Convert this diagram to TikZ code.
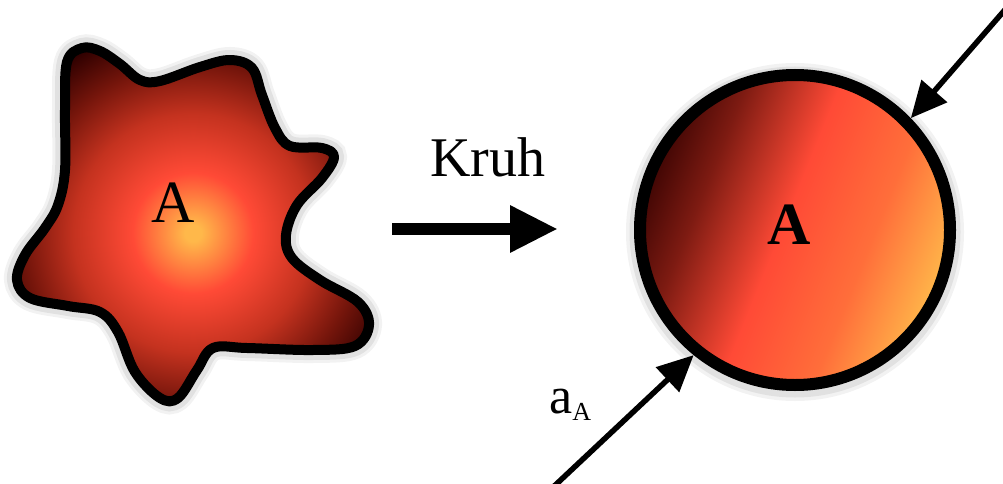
\documentclass[tikz,border=0pt]{standalone}
\usepackage{fontspec}
\setmainfont{Liberation Serif}
\usetikzlibrary{arrows.meta}

% palette of the glowing blob
\definecolor{glowcore}{HTML}{FFB84A}
\definecolor{glowred}{HTML}{FF4A36}
\definecolor{glowmid}{HTML}{C4321F}
\definecolor{glowdeep}{HTML}{74150B}
\definecolor{glowrim}{HTML}{2E0000}
% palette of the disc
\definecolor{discdark}{HTML}{3E0503}
\definecolor{discmaroon}{HTML}{7E1B12}
\definecolor{discred}{HTML}{FF4A36}
\definecolor{discorange}{HTML}{FF6E3A}
\definecolor{discgold}{HTML}{FFB84A}

% radial glow: 25bp corresponds to the radius of the shaded circle (260pt)
\pgfdeclareradialshading{blobglow}{\pgfpoint{0bp}{0bp}}{%
  color(0bp)=(glowcore); color(0.8bp)=(glowcore); color(5.8bp)=(glowred);
  color(11.5bp)=(glowmid); color(16.3bp)=(glowdeep); color(20.5bp)=(glowrim);
  color(50bp)=(glowrim)}
\pgfdeclarehorizontalshading{discgrad}{100bp}{%
  color(0bp)=(discdark); color(25bp)=(discdark); color(34bp)=(discmaroon);
  color(48bp)=(discred); color(62bp)=(discorange); color(75bp)=(discgold);
  color(100bp)=(discgold)}

% outline of the irregular region
\def\blob{plot[smooth cycle, tension=0.6] coordinates {
  (65,170) (65,110) (67,62) (82,48) (100,51) (120,64) (140,80) (160,81)
  (200,67) (230,60) (252,68) (262,95) (275,128) (290,146) (322,148)
  (334,157) (322,178) (297,205) (286,235) (292,258) (320,280) (358,302)
  (369,325) (355,346) (313,350) (247,348) (213,348) (197,370) (178,398)
  (160,398) (135,372) (118,332) (100,312) (68,306) (30,298) (17,280)
  (25,255) (45,228) (58,205)}}

\begin{document}
\begin{tikzpicture}[x=1pt, y=-1pt,
  halo/.style={draw=black, draw opacity=#1},
  outline/.style={draw=black, line width=10pt, line join=round},
  disc/.style={circle, minimum size=310pt, inner sep=0pt, draw=black,
    line width=12pt, shade, shading=discgrad, shading angle=-22},
  bigletter/.style={inner sep=0pt, font=\fontsize{60}{60}\selectfont},
  bigarrow/.style={line width=12pt, -{Triangle[length=48pt, width=44pt]}},
  thinarrow/.style={line width=5.5pt, -{Triangle[length=36pt, width=33pt]}}]
\useasboundingbox (0,0) rectangle (1003,484);

% soft shadow and glowing fill of the region
\draw[halo=0.05, line width=26pt] \blob;
\draw[halo=0.07, line width=20pt] \blob;
\begin{scope}
  \clip \blob;
  \shade[shading=blobglow] (193,233) circle (260pt);
\end{scope}
\draw[outline] \blob;
\node[bigletter] (blobA) at (173,203) {A};

% transformation arrow
\coordinate (kfrom) at (392,229);
\coordinate (kto) at (558,229);
\draw[bigarrow] (kfrom) -- (kto);
\node[inner sep=0pt, font=\fontsize{56}{56}\selectfont] (kruh) at (488,157) {Kruh};

% the disc with its soft shadow
\draw[halo=0.05, line width=28pt] (795,232) circle (155pt);
\draw[halo=0.07, line width=21pt] (795,232) circle (155pt);
\node[disc] (disc) at (795,230) {};
\node[bigletter, font=\fontsize{60}{60}\selectfont\bfseries] (discA) at (789,225) {A};

% diameter arrows
\coordinate (topfeed) at (1010,4);
\coordinate (botfeed) at (549,491);
\draw[thinarrow] (topfeed) -- (disc.44.5);
\draw[thinarrow] (botfeed) -- (disc.231);
\node[anchor=base west, inner sep=0pt] (alabel) at (549,413)
  {{\fontsize{52}{52}\selectfont a}\raisebox{-7pt}{\fontsize{26}{26}\selectfont A}};
\end{tikzpicture}
\end{document}
